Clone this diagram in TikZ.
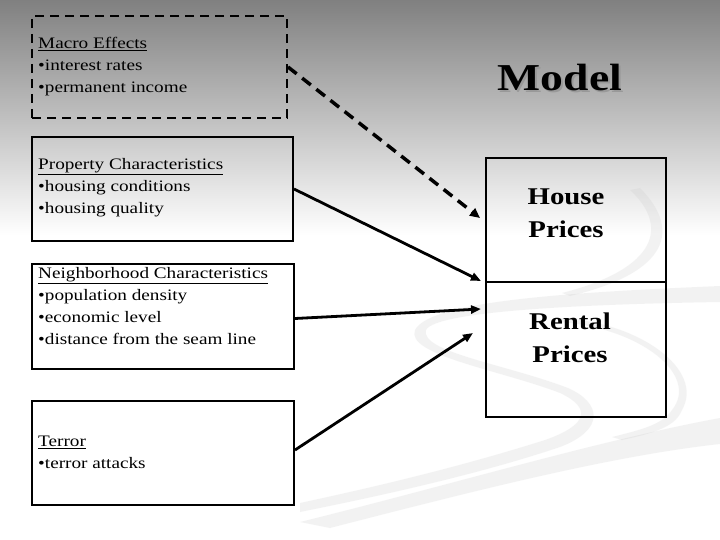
\documentclass[tikz,border=0pt]{standalone}
\usepackage{fontspec}
\setmainfont{Liberation Serif}[FakeStretch=1.2]
\usetikzlibrary{arrows.meta}
\definecolor{topgray}{RGB}{128,128,128}
\definecolor{swoosh}{RGB}{200,200,200}
\tikzset{
  box/.style={draw, line width=2pt, inner sep=0pt, anchor=north west},
  dbox/.style={box, dash pattern=on 9pt off 6pt},
  txt/.style={font=\fontsize{16}{22}\selectfont, align=left, inner sep=0pt, anchor=west},
  big/.style={font=\fontsize{24}{33}\selectfont\bfseries, align=center, inner sep=0pt},
  conn/.style={line width=2.8pt, -{Triangle[length=10pt,width=8pt]}},
  dconn/.style={line width=3.5pt, dash pattern=on 11pt off 7pt, -{Triangle[length=10pt,width=9pt]}},
  sw/.style={fill=swoosh, opacity=0.22},
}
\begin{document}
\begin{tikzpicture}[x=1pt,y=-1pt]
\useasboundingbox (0,0) rectangle (720,540);
\fill[white] (0,0) rectangle (720,540);
\shade[top color=topgray, bottom color=white] (0,0) rectangle (720,235);
% decorative swooshes
\fill[sw] (720,286) .. controls (580,292) and (430,300) .. (415,330)
  .. controls (405,355) and (500,370) .. (560,393)
  .. controls (592,408) and (588,425) .. (545,440)
  .. controls (450,470) and (360,490) .. (300,503) -- (300,512)
  .. controls (380,496) and (480,474) .. (560,447)
  .. controls (605,430) and (602,403) .. (568,388)
  .. controls (505,364) and (420,352) .. (426,330)
  .. controls (436,310) and (600,304) .. (720,302) -- cycle;
\fill[sw] (720,418) .. controls (600,440) and (450,485) .. (300,522) -- (330,528)
  .. controls (470,492) and (610,456) .. (720,444) -- cycle;
\fill[sw] (630,190) .. controls (668,225) and (660,268) .. (562,293) -- (570,296)
  .. controls (672,272) and (680,228) .. (640,188) -- cycle;
\fill[sw] (560,322) .. controls (640,328) and (700,375) .. (672,410)
  .. controls (662,425) and (640,430) .. (612,437) -- (622,440)
  .. controls (660,432) and (676,425) .. (682,410)
  .. controls (705,370) and (640,322) .. (560,318) -- cycle;
% title
\node[font=\fontsize{38}{38}\selectfont\bfseries, text=gray!80] (modelshadow) at (562,80) {Model};
\node[font=\fontsize{38}{38}\selectfont\bfseries] (model) at (560,78) {Model};
% left boxes
\node[dbox, minimum width=255pt, minimum height=102pt] (macro) at (31,15) {};
\node[box, minimum width=261pt, minimum height=104pt] (prop) at (31,136) {};
\node[box, minimum width=262pt, minimum height=105pt] (neigh) at (31,263) {};
\node[box, minimum width=262pt, minimum height=104pt] (terror) at (31,400) {};
\node[txt] (macrotxt) at (38,67) {\underline{Macro Effects}\\\textbullet interest rates\\\textbullet permanent income};
\node[txt] (proptxt) at (38,188) {\underline{Property Characteristics}\\\textbullet housing conditions\\\textbullet housing quality};
\node[txt] (neightxt) at (38,306) {\underline{Neighborhood Characteristics}\\\textbullet population density\\\textbullet economic level\\\textbullet distance from the seam line};
\node[txt] (terrortxt) at (38,452.5) {\underline{Terror}\\\textbullet terror attacks};
% right boxes
\node[box, minimum width=180pt, minimum height=124pt] (house) at (485,157) {};
\node[box, minimum width=180pt, minimum height=135pt] (rental) at (485,281) {};
\node[big] (housetxt) at (566,213) {House\\Prices};
\node[big] (rentaltxt) at (570,338) {Rental\\Prices};
% connectors
\coordinate (t1) at (480,218);
\coordinate (t2) at (481,281);
\coordinate (t3) at (481,309);
\coordinate (t4) at (473,333);
\draw[dconn] (macro.east) -- (t1);
\draw[conn] (prop.east) -- (t2);
\draw[conn] ([yshift=-2pt]neigh.east) -- (t3);
\draw[conn] ([yshift=3pt]terror.east) -- (t4);
\end{tikzpicture}
\end{document}
